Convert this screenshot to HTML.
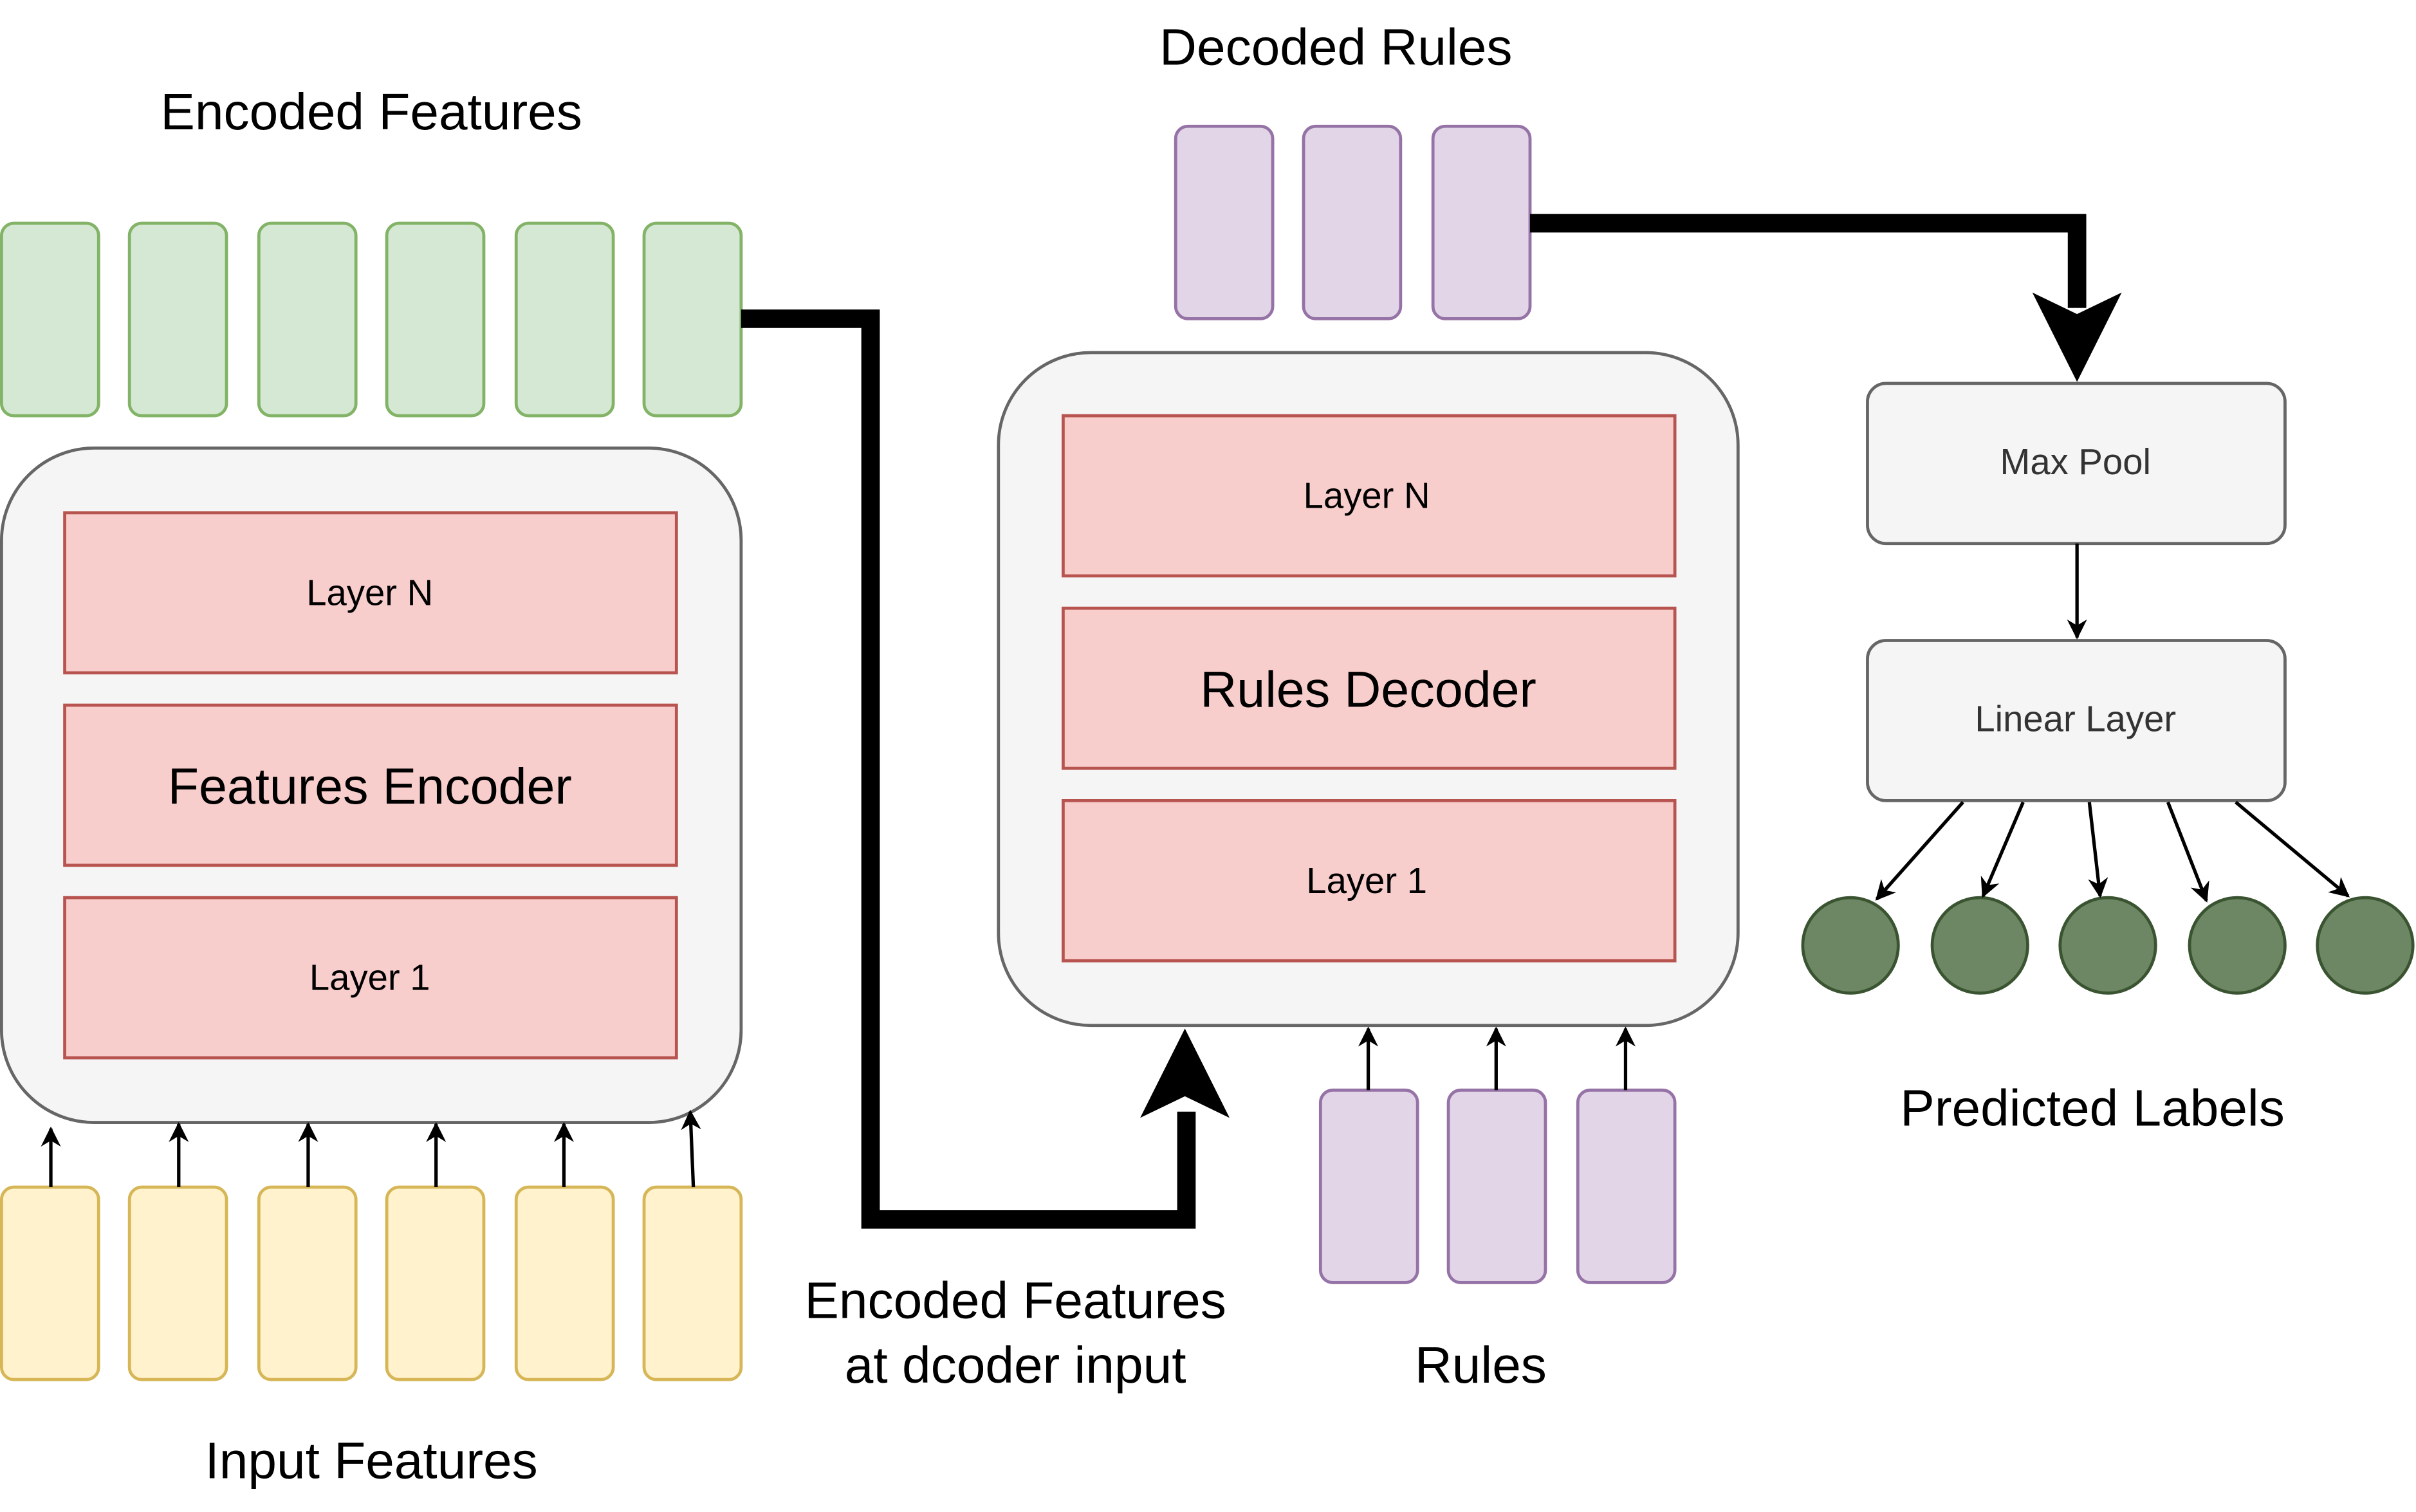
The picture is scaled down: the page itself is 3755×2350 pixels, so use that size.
<!DOCTYPE html>
<html><head><meta charset="utf-8"><style>html,body{margin:0;padding:0;background:#fff}svg{display:block}</style></head>
<body>
<svg xmlns="http://www.w3.org/2000/svg" width="3755" height="2350" viewBox="0 0 1568 982" preserveAspectRatio="none" font-family="Liberation Sans, Arial, sans-serif">
<defs>
<marker id="a" viewBox="0 0 10 10" refX="9" refY="5" markerWidth="13" markerHeight="13" markerUnits="userSpaceOnUse" orient="auto"><path d="M0,0 L10,5 L0,10 L3,5 z" fill="#000"/></marker>
</defs>
<g fill="#d5e8d4" stroke="#82b366" stroke-width="2">
<rect x="1" y="145" width="63" height="125" rx="8"/><rect x="84" y="145" width="63" height="125" rx="8"/><rect x="168" y="145" width="63" height="125" rx="8"/><rect x="251" y="145" width="63" height="125" rx="8"/><rect x="335" y="145" width="63" height="125" rx="8"/><rect x="418" y="145" width="63" height="125" rx="8"/>
</g>
<g fill="#fff2cc" stroke="#d6b656" stroke-width="2">
<rect x="1" y="771" width="63" height="125" rx="8"/><rect x="84" y="771" width="63" height="125" rx="8"/><rect x="168" y="771" width="63" height="125" rx="8"/><rect x="251" y="771" width="63" height="125" rx="8"/><rect x="335" y="771" width="63" height="125" rx="8"/><rect x="418" y="771" width="63" height="125" rx="8"/>
</g>
<rect x="1" y="291" width="480" height="438" rx="60" fill="#f5f5f5" stroke="#666" stroke-width="2"/>
<rect x="648" y="229" width="480" height="437" rx="60" fill="#f5f5f5" stroke="#666" stroke-width="2"/>
<g fill="#f8cecc" stroke="#b85450" stroke-width="2">
<rect x="42" y="333" width="397" height="104"/><rect x="42" y="458" width="397" height="104"/><rect x="42" y="583" width="397" height="104"/>
<rect x="690" y="270" width="397" height="104"/><rect x="690" y="395" width="397" height="104"/><rect x="690" y="520" width="397" height="104"/>
</g>
<g fill="#e1d5e7" stroke="#9673a6" stroke-width="2">
<rect x="763" y="82" width="63" height="125" rx="8"/><rect x="846" y="82" width="63" height="125" rx="8"/><rect x="930" y="82" width="63" height="125" rx="8"/>
<rect x="857" y="708" width="63" height="125" rx="8"/><rect x="940" y="708" width="63" height="125" rx="8"/><rect x="1024" y="708" width="63" height="125" rx="8"/>
</g>
<rect x="1212" y="249" width="271" height="104" rx="12" fill="#f5f5f5" stroke="#666" stroke-width="2"/>
<rect x="1212" y="416" width="271" height="104" rx="12" fill="#f5f5f5" stroke="#666" stroke-width="2"/>
<g fill="#6d8764" stroke="#3a5431" stroke-width="2">
<circle cx="1201" cy="614" r="31"/><circle cx="1285" cy="614" r="31"/><circle cx="1368" cy="614" r="31"/><circle cx="1452" cy="614" r="31"/><circle cx="1535" cy="614" r="31"/>
</g>
<g stroke="#000" stroke-width="2.2" fill="none" marker-end="url(#a)">
<line x1="33" y1="771" x2="33" y2="733"/><line x1="116" y1="771" x2="116" y2="730"/><line x1="200" y1="771" x2="200" y2="730"/><line x1="283" y1="771" x2="283" y2="730"/><line x1="366" y1="771" x2="366" y2="730"/><line x1="450" y1="771" x2="448" y2="722"/>
<line x1="888" y1="708" x2="888" y2="668"/><line x1="971" y1="708" x2="971" y2="668"/><line x1="1055" y1="708" x2="1055" y2="668"/>
<line x1="1348" y1="353" x2="1348" y2="414"/>
<line x1="1274" y1="521" x2="1218" y2="584"/><line x1="1313" y1="521" x2="1287" y2="582"/><line x1="1356" y1="521" x2="1363" y2="582"/><line x1="1407" y1="521" x2="1432" y2="585"/><line x1="1451" y1="521" x2="1524" y2="582"/>
</g>
<path d="M481,207 L565,207 L565,792 L770,792 L770,722" fill="none" stroke="#000" stroke-width="12"/>
<path d="M769,668 L798,726 L769,712 L740,726 z" fill="#000"/>
<path d="M993,145 L1348,145 L1348,200" fill="none" stroke="#000" stroke-width="12"/>
<path d="M1348,248 L1377,190 L1348,204 L1319,190 z" fill="#000"/>
<g text-anchor="middle" fill="#000">
<text x="240" y="393" font-size="23.5">Layer N</text>
<text x="240" y="522" font-size="33">Features Encoder</text>
<text x="240" y="643" font-size="23.5">Layer 1</text>
<text x="887" y="330" font-size="23.5">Layer N</text>
<text x="888" y="459" font-size="33">Rules Decoder</text>
<text x="887" y="580" font-size="23.5">Layer 1</text>
<text x="241" y="84" font-size="33.5">Encoded Features</text>
<text x="241" y="960" font-size="33.5">Input Features</text>
<text x="867" y="42" font-size="33.5">Decoded Rules</text>
<text x="1358" y="731" font-size="33.5">Predicted Labels</text>
<text x="961" y="898" font-size="33.5">Rules</text>
<text x="659" y="856" font-size="33.5">Encoded Features</text>
<text x="659" y="898" font-size="33.5">at dcoder input</text>
<text x="1347" y="308" font-size="23.5" fill="#333">Max Pool</text>
<text x="1347" y="475" font-size="23.5" fill="#333">Linear Layer</text>
</g>
</svg>
</body></html>
